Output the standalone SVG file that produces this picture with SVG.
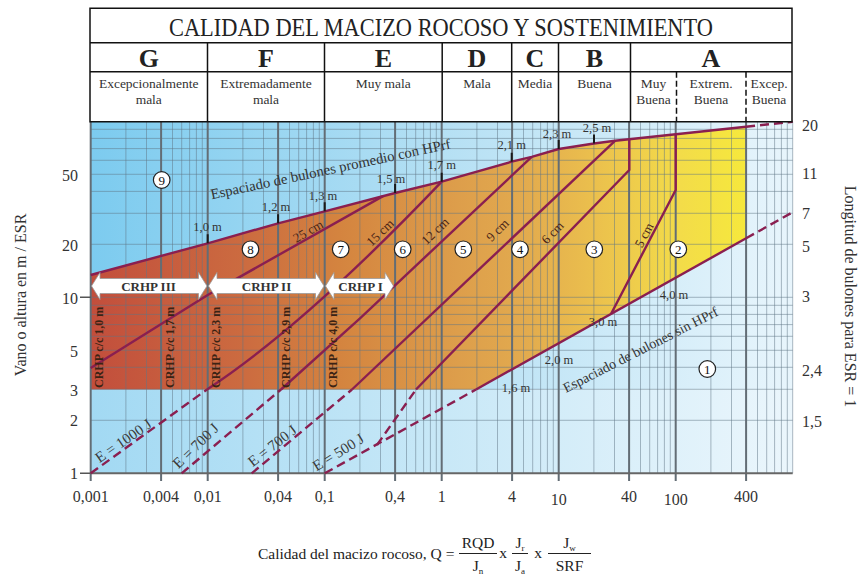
<svg xmlns="http://www.w3.org/2000/svg" width="864" height="579" viewBox="0 0 864 579" font-family="'Liberation Serif', 'Times New Roman', 'DejaVu Serif', serif">
<defs>
<linearGradient id="blueUp" x1="90.7" y1="0" x2="792.7" y2="0" gradientUnits="userSpaceOnUse">
<stop offset="0" stop-color="#7ccbef"/><stop offset="0.5" stop-color="#b5e0f4"/><stop offset="1" stop-color="#e8f5fc"/>
</linearGradient>
<linearGradient id="blueLow" x1="90.7" y1="0" x2="792.7" y2="0" gradientUnits="userSpaceOnUse">
<stop offset="0" stop-color="#a2d9f3"/><stop offset="0.5" stop-color="#c8e8f7"/><stop offset="1" stop-color="#ebf6fc"/>
</linearGradient>
<linearGradient id="warm" x1="90.7" y1="0" x2="746.1" y2="0" gradientUnits="userSpaceOnUse">
<stop offset="0" stop-color="#c24e3c"/><stop offset="0.24" stop-color="#cc6c40"/><stop offset="0.38" stop-color="#d4843f"/><stop offset="0.56" stop-color="#dd9e4b"/><stop offset="0.66" stop-color="#e2aa4e"/><stop offset="0.77" stop-color="#ebc04d"/><stop offset="0.9" stop-color="#f3dc49"/><stop offset="1" stop-color="#f6e83c"/>
</linearGradient>
<style>
text, tspan { font-family: 'Liberation Serif', 'Times New Roman', 'DejaVu Serif', serif; }
.gthin{stroke:#5f7686;stroke-opacity:.5;stroke-width:1;fill:none}
.gthick{stroke:#636d75;stroke-width:2;fill:none}
.ln{stroke:#8a1f50;stroke-width:2.4;fill:none;stroke-linejoin:round}
.dash{stroke-dasharray:9 5}
.tick{stroke:#1a1a1a;stroke-width:2;fill:none}
.sp{font-size:12.5px;fill:#333;text-anchor:middle}
.circ{fill:#fff;stroke:#222;stroke-width:1.2}
.num{font-size:13px;text-anchor:middle;fill:#111}
.arrow{fill:#fff;stroke:#9a9a9a;stroke-width:.8}
.crhp{font-size:13px;font-weight:bold;text-anchor:middle;fill:#333}
.cc{font-size:12px;font-weight:bold;fill:#3b2314}
.thk{font-size:13px;fill:#4a2518;text-anchor:middle}
.en{font-size:15px;fill:#3a3a3a;text-anchor:middle}
.ax{font-size:16px;fill:#333}
.hdr{stroke:#111;stroke-width:1.5;fill:none}
.hdash{stroke-dasharray:6 3}
.letter{font-size:26px;font-weight:bold;text-anchor:middle;fill:#222}
.desc{font-size:13.5px;text-anchor:middle;fill:#333}
</style>
</defs>
<rect width="864" height="579" fill="#fff"/>

<g id="plot-background">
<rect x="90.7" y="121.7" width="702" height="267.8" fill="url(#blueUp)"/>
<rect x="90.7" y="389.5" width="702" height="83.8" fill="url(#blueLow)"/>
<polygon points="90.7,275 207.7,243.3 278.1,223.3 324.7,211.3 395.1,193 441.7,181.7 511.7,161.7 531.7,156.9 558.7,149 594,143.5 615,140.8 746.1,126.7 746.1,238.3 476,389.5 90.7,389.5" fill="url(#warm)"/>
</g>

<g id="grid">
<path class="gthin" d="M90.7,420.3H792.7M90.7,389.3H792.7M90.7,367.3H792.7M90.7,350.3H792.7M90.7,336.3H792.7M90.7,324.6H792.7M90.7,314.4H792.7M90.7,305.3H792.7M90.7,297.3H792.7M90.7,244.3H792.7M90.7,213.3H792.7M90.7,191.4H792.7M90.7,174.3H792.7M90.7,160.3H792.7M90.7,148.6H792.7M90.7,138.4H792.7M90.7,129.3H792.7"/>
<path class="gthin" d="M125.9,121.7V473.3M146.5,121.7V473.3M172.5,121.7V473.3M181.7,121.7V473.3M189.6,121.7V473.3M196.4,121.7V473.3M202.3,121.7V473.3M242.9,121.7V473.3M263.5,121.7V473.3M289.5,121.7V473.3M298.7,121.7V473.3M306.6,121.7V473.3M313.4,121.7V473.3M319.3,121.7V473.3M359.9,121.7V473.3M380.5,121.7V473.3M406.5,121.7V473.3M415.7,121.7V473.3M423.6,121.7V473.3M430.4,121.7V473.3M436.3,121.7V473.3M476.9,121.7V473.3M497.5,121.7V473.3M523.5,121.7V473.3M532.7,121.7V473.3M540.6,121.7V473.3M547.4,121.7V473.3M553.3,121.7V473.3M593.9,121.7V473.3M614.5,121.7V473.3M640.5,121.7V473.3M649.7,121.7V473.3M657.6,121.7V473.3M664.4,121.7V473.3M670.3,121.7V473.3M710.9,121.7V473.3M731.5,121.7V473.3M757.5,121.7V473.3M766.7,121.7V473.3M774.6,121.7V473.3M781.4,121.7V473.3M787.3,121.7V473.3M792.7,121.7V473.3"/>
<path class="gthick" d="M90.7,121.7V481M161.1,121.7V481M207.7,121.7V481M278.1,121.7V481M324.7,121.7V481M395.1,121.7V481M441.7,121.7V481M512.1,121.7V481M558.7,121.7V481M629.1,121.7V481M675.7,121.7V481M746.1,121.7V481"/>
<path d="M90.7,473.3H792.7" stroke="#666" stroke-width="2"/>
<path d="M80,297.3H90.7M80,473.3H90.7" stroke="#555" stroke-width="1.5"/>
</g>

<g id="connectors">
<path class="ln" d="M90.7,275 L207.7,243.3 L278.1,223.3 L324.7,211.3 L395.1,193 L441.7,181.7 L511.7,161.7 L531.7,156.9 L558.7,149 L594,143.5 L615,140.8 L746.1,126.7"/>
<path class="ln dash" d="M746.1,126.7 L792.7,121.7"/>
<path class="ln" d="M476,389.5 L746.1,238.3"/>
<path class="ln dash" d="M324.7,473.3 L476,389.5 M746.1,238.3 L792.7,212.2"/>
<path class="ln" d="M90.7,368 L207.7,295 L383,196.1"/>
<path class="ln dash" d="M90.7,473.3 L207,389.5"/>
<path class="ln" d="M207,389.5 Q305,325 441.7,181.7"/>
<path class="ln dash" d="M181.7,473.3 L281,389.5"/>
<path class="ln" d="M281,389.5 L360,318.3 L531.7,156.9"/>
<path class="ln dash" d="M251.7,473.3 L352,389.5"/>
<path class="ln" d="M352,389.5 L615,140.8"/>
<path class="ln dash" d="M377,445 L416,389.5"/>
<path class="ln" d="M416,389.5 L629.3,170 L629.3,139.3"/>
<path class="ln" d="M611,314 L675.7,190 L675.7,134.2"/>
<path class="tick" d="M207.7,234.3v9M278.1,214.3v9M324.7,202.3v9M395.1,184v9M441.7,172.7v9M511.7,152.7v9M558.7,140v9M594,134.5v9"/>
</g>

<g id="spacing-labels">
<text class="sp" x="207.5" y="231">1,0 m</text>
<text class="sp" x="276" y="211">1,2 m</text>
<text class="sp" x="323" y="199.5">1,3 m</text>
<text class="sp" x="391" y="182.5">1,5 m</text>
<text class="sp" x="441.7" y="169">1,7 m</text>
<text class="sp" x="511.7" y="149">2,1 m</text>
<text class="sp" x="557" y="138">2,3 m</text>
<text class="sp" x="597" y="132">2,5 m</text>
<text class="sp" x="516" y="391.5">1,6 m</text>
<text class="sp" x="559" y="364">2,0 m</text>
<text class="sp" x="603" y="326">3,0 m</text>
<text class="sp" x="674" y="298.5">4,0 m</text>
<text transform="translate(211.7,199.3) rotate(-12)" font-size="14.5" fill="#333" textLength="245" lengthAdjust="spacingAndGlyphs">Espaciado de bulones promedio con HPrf</text>
<text transform="translate(566,393) rotate(-27)" font-size="14" fill="#333">Espaciado de bulones sin HPrf</text>
</g>

<g id="thickness-labels">
<text class="thk" transform="translate(308,231) rotate(-30)" y="4.5">25 cm</text>
<text class="thk" transform="translate(380,232.5) rotate(-44)" y="4.5">15 cm</text>
<text class="thk" transform="translate(435,231) rotate(-44)" y="4.5">12 cm</text>
<text class="thk" transform="translate(497.5,230) rotate(-45)" y="4.5">9 cm</text>
<text class="thk" transform="translate(552.5,232.5) rotate(-46)" y="4.5">6 cm</text>
<text class="thk" transform="translate(644,235) rotate(-62)" y="4.5">5 cm</text>
<text class="en" transform="translate(123.3,440.7) rotate(-34.5)" y="5">E = 1000 J</text>
<text class="en" transform="translate(195.7,445.7) rotate(-44)" y="5">E = 700 J</text>
<text class="en" transform="translate(272.3,445.7) rotate(-37.7)" y="5">E = 700 J</text>
<text class="en" transform="translate(338.3,452.3) rotate(-31.7)" y="5">E = 500 J</text>
</g>

<g id="crhp">
<polygon class="arrow" points="91.5,286 100,272.5 100,278.5 198.5,278.5 198.5,272.5 207,286 198.5,299.5 198.5,293.5 100,293.5 100,299.5"/>
<polygon class="arrow" points="208.5,286 217,272.5 217,278.5 315.5,278.5 315.5,272.5 324,286 315.5,299.5 315.5,293.5 217,293.5 217,299.5"/>
<polygon class="arrow" points="325.5,286 334,272.5 334,278.5 385,278.5 385,272.5 393.5,286 385,299.5 385,293.5 334,293.5 334,299.5"/>
<text class="crhp" x="148.5" y="290.5">CRHP III</text>
<text class="crhp" x="266.5" y="290.5">CRHP II</text>
<text class="crhp" x="360.5" y="290.5">CRHP I</text>
<text class="cc" transform="translate(103.3,388) rotate(-90)">CRHP c/c 1,0 m</text>
<text class="cc" transform="translate(173.5,388) rotate(-90)">CRHP c/c 1,7 m</text>
<text class="cc" transform="translate(219.5,388) rotate(-90)">CRHP c/c 2,3 m</text>
<text class="cc" transform="translate(290,388) rotate(-90)">CRHP c/c 2,9 m</text>
<text class="cc" transform="translate(336.5,388) rotate(-90)">CRHP c/c 4,0 m</text>
</g>

<g id="zone-1"><circle class="circ" cx="707.3" cy="369" r="8.3"/><text class="num" x="707.3" y="373.5">1</text></g>
<g id="zone-2"><circle class="circ" cx="678.3" cy="249.3" r="8.3"/><text class="num" x="678.3" y="253.8">2</text></g>
<g id="zone-3"><circle class="circ" cx="594.3" cy="249.3" r="8.3"/><text class="num" x="594.3" y="253.8">3</text></g>
<g id="zone-4"><circle class="circ" cx="520" cy="249.3" r="8.3"/><text class="num" x="520" y="253.8">4</text></g>
<g id="zone-5"><circle class="circ" cx="463.3" cy="249.3" r="8.3"/><text class="num" x="463.3" y="253.8">5</text></g>
<g id="zone-6"><circle class="circ" cx="402.7" cy="249.3" r="8.3"/><text class="num" x="402.7" y="253.8">6</text></g>
<g id="zone-7"><circle class="circ" cx="340.7" cy="249.3" r="8.3"/><text class="num" x="340.7" y="253.8">7</text></g>
<g id="zone-8"><circle class="circ" cx="250.5" cy="249.3" r="8.3"/><text class="num" x="250.5" y="253.8">8</text></g>
<g id="zone-9"><circle class="circ" cx="161.7" cy="180" r="8.3"/><text class="num" x="161.7" y="184.5">9</text></g>

<g id="header">
<rect x="90" y="8.3" width="702" height="113.4" fill="#fff"/>
<path class="hdr" d="M90,8.3H792V121.7H90ZM90,42.7H792M90,71.7H792M207.5,42.7V121.7M324.5,42.7V121.7M442.2,42.7V121.7M511.7,42.7V121.7M558.5,42.7V121.7M630.5,42.7V121.7"/>
<path class="hdr hdash" d="M676.5,71.7V121.7M746,71.7V121.7"/>
<text x="441" y="36" font-size="25" fill="#222" text-anchor="middle" textLength="544" lengthAdjust="spacingAndGlyphs">CALIDAD DEL MACIZO ROCOSO Y SOSTENIMIENTO</text>
<text class="letter" x="148.75" y="66.5">G</text>
<text class="letter" x="266" y="66.5">F</text>
<text class="letter" x="383.3" y="66.5">E</text>
<text class="letter" x="477" y="66.5">D</text>
<text class="letter" x="535" y="66.5">C</text>
<text class="letter" x="594.5" y="66.5">B</text>
<text class="letter" x="711" y="66.5">A</text>
<text class="desc" x="148.75" y="87.5">Excepcionalmente</text>
<text class="desc" x="148.75" y="103.5">mala</text>
<text class="desc" x="266" y="87.5">Extremadamente</text>
<text class="desc" x="266" y="103.5">mala</text>
<text class="desc" x="383.3" y="87.5">Muy mala</text>
<text class="desc" x="477" y="87.5">Mala</text>
<text class="desc" x="535" y="87.5">Media</text>
<text class="desc" x="594.5" y="87.5">Buena</text>
<text class="desc" x="653.5" y="87.5">Muy</text>
<text class="desc" x="653.5" y="103.5">Buena</text>
<text class="desc" x="711" y="87.5">Extrem.</text>
<text class="desc" x="711" y="103.5">Buena</text>
<text class="desc" x="769" y="87.5">Excep.</text>
<text class="desc" x="769" y="103.5">Buena</text>
</g>

<g id="axes">
<g class="ax" text-anchor="end">
<text x="78" y="180.5">50</text>
<text x="78" y="250.5">20</text>
<text x="78" y="303.5">10</text>
<text x="78" y="357">5</text>
<text x="78" y="395.5">3</text>
<text x="78" y="425.5">2</text>
<text x="78" y="479">1</text>
</g>
<g class="ax">
<text x="802" y="131">20</text>
<text x="802" y="178.5">11</text>
<text x="802" y="218.5">7</text>
<text x="802" y="252">5</text>
<text x="802" y="302">3</text>
<text x="802" y="375.5">2,4</text>
<text x="802" y="427">1,5</text>
</g>
<g class="ax" text-anchor="middle">
<text x="90.7" y="502">0,001</text>
<text x="161.1" y="502">0,004</text>
<text x="207.7" y="502">0,01</text>
<text x="278.1" y="502">0,04</text>
<text x="324.7" y="502">0,1</text>
<text x="395.1" y="502">0,4</text>
<text x="441.7" y="502">1</text>
<text x="512.1" y="502">4</text>
<text x="558.7" y="505">10</text>
<text x="629.1" y="502">40</text>
<text x="675.7" y="505">100</text>
<text x="746.1" y="502">400</text>
</g>
<text transform="translate(25.5,295) rotate(-90)" font-size="16" fill="#333" text-anchor="middle">Vano o altura en m / ESR</text>
<text transform="translate(844.5,296.5) rotate(90)" font-size="16" fill="#333" text-anchor="middle">Longitud de bulones para ESR = 1</text>
</g>

<g id="formula" fill="#222" font-size="15.5">
<text x="258" y="559">Calidad del macizo rocoso, Q =</text>
<path d="M459,553.5H497M512,553.5H528M548,553.5H591" stroke="#222" stroke-width="1"/>
<text x="478" y="548" text-anchor="middle">RQD</text>
<text x="478" y="571" text-anchor="middle">J<tspan font-size="9" dy="2.5">n</tspan></text>
<text x="503" y="558" text-anchor="middle">x</text>
<text x="520" y="548" text-anchor="middle">J<tspan font-size="9" dy="2.5">r</tspan></text>
<text x="520" y="571" text-anchor="middle">J<tspan font-size="9" dy="2.5">a</tspan></text>
<text x="538" y="558" text-anchor="middle">x</text>
<text x="569.5" y="548" text-anchor="middle">J<tspan font-size="9" dy="2.5">w</tspan></text>
<text x="569.5" y="571" text-anchor="middle">SRF</text>
</g>
</svg>
